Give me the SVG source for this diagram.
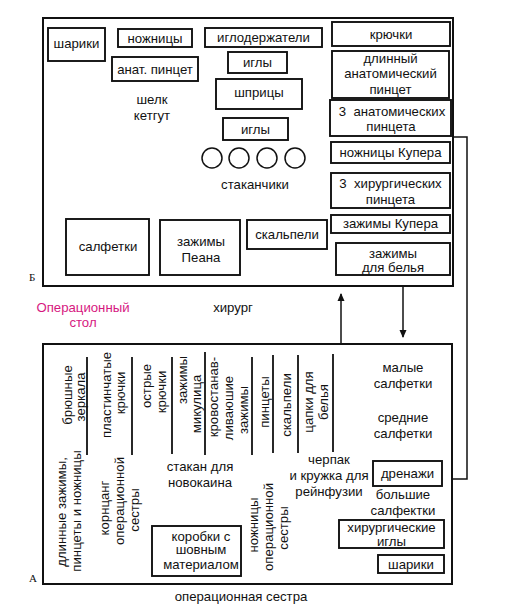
<svg xmlns="http://www.w3.org/2000/svg" width="530" height="614" viewBox="0 0 530 614">
<defs>
<style>
text{font-family:"Liberation Sans",Arial,sans-serif;font-size:13.2px;fill:#111;text-anchor:middle}
.b{fill:#fff;stroke:#111;stroke-width:1.9}
.frame{fill:#fff;stroke:#111;stroke-width:2}
.div{stroke:#111;stroke-width:1.8;fill:none}
.c{fill:#fff;stroke:#111;stroke-width:1.5}
.ser{font-family:"Liberation Serif","Times New Roman",serif;font-size:11px;text-anchor:start}
.mag{fill:#d6177f}
.con{stroke:#111;stroke-width:1.5;fill:none}
.pre{white-space:pre}
</style>
<marker id="ah" markerWidth="8" markerHeight="10" refX="7" refY="4" orient="auto" markerUnits="userSpaceOnUse">
<path d="M0,0.5 L8,4 L0,7.5 Z" fill="#111"/>
</marker>
</defs>
<rect width="530" height="614" fill="#fff"/>

<g id="table-b">
<rect class="frame" x="43" y="18" width="410" height="268"/>
<text class="ser" x="29" y="281">Б</text>
</g>

<g id="sariki-top"><rect class="b" x="48" y="28" width="57" height="33"/><text x="76.5" y="48">шарики</text></g>
<g id="nozhnicy"><rect class="b" x="118" y="29" width="74" height="18"/><text x="155" y="42.5">ножницы</text></g>
<g id="iglodergateli"><rect class="b" x="205" y="28" width="117" height="19"/><text x="263.5" y="42">иглодержатели</text></g>
<g id="anat-pincet"><rect class="b" x="112" y="57" width="86" height="24"/><text x="155" y="73.5">анат. пинцет</text></g>
<g id="igly-1"><rect class="b" x="228" y="52" width="59" height="21"/><text x="257.5" y="67">иглы</text></g>
<g id="shpricy"><rect class="b" x="216" y="79" width="86" height="30"/><text x="259" y="97">шприцы</text></g>
<g id="igly-2"><rect class="b" x="223" y="118" width="65" height="22"/><text x="255.5" y="133.5">иглы</text></g>
<g id="shelk"><text x="152" y="104">шелк</text><text x="152" y="120">кетгут</text></g>
<g id="stakanchiki">
<circle class="c" cx="212" cy="158" r="10"/>
<circle class="c" cx="239" cy="158" r="10"/>
<circle class="c" cx="267" cy="158" r="10"/>
<circle class="c" cx="295" cy="158" r="10"/>
<text x="255" y="189">стаканчики</text>
</g>
<g id="salfetki"><rect class="b" x="66" y="219" width="83" height="56"/><text x="108" y="251">салфетки</text></g>
<g id="zazhimy-peana"><rect class="b" x="160" y="220" width="80" height="55"/><text x="201" y="246">зажимы</text><text x="201" y="262">Пеана</text></g>
<g id="skalpeli"><rect class="b" x="247" y="220" width="80" height="29"/><text x="287" y="238.5">скальпели</text></g>

<g id="kryuchki"><rect class="b" x="332" y="22" width="118" height="24"/><text x="391" y="38.5">крючки</text></g>
<g id="dlinny-pincet"><rect class="b" x="332" y="51" width="117" height="47"/><text x="390.5" y="63">длинный</text><text x="390.5" y="78">анатомический</text><text x="390.5" y="94">пинцет</text></g>
<g id="anat-pinceta-3"><rect class="b" x="330" y="100" width="121" height="36"/><text class="pre" x="392" y="115.5">3  анатомических</text><text x="391" y="130.5">пинцета</text></g>
<g id="nozhnicy-kupera"><rect class="b" x="331" y="142" width="119" height="21"/><text x="390.5" y="157">ножницы Купера</text></g>
<g id="hir-pinceta-3"><rect class="b" x="331" y="173" width="119" height="35"/><text class="pre" x="390.5" y="187.5">3  хирургических</text><text x="390.5" y="203.5">пинцета</text></g>
<g id="zazhimy-kupera"><rect class="b" x="331" y="215" width="119" height="18"/><text x="390.5" y="228">зажимы Купера</text></g>
<g id="zazhimy-belya"><rect class="b" x="336" y="243" width="114" height="32"/><text x="393" y="257.5">зажимы</text><text x="393" y="271.5">для белья</text></g>

<g id="op-stol"><text class="mag" x="83" y="312">Операционный</text><text class="mag" x="83" y="327">стол</text></g>
<g id="hirurg"><text x="233" y="312">хирург</text></g>

<g id="table-a">
<rect class="frame" x="43" y="344" width="409" height="240"/>
<text class="ser" x="29" y="582">А</text>
</g>

<g id="dividers">
<line class="div" x1="87" y1="357" x2="87" y2="455"/>
<line class="div" x1="132" y1="357" x2="132" y2="455"/>
<line class="div" x1="172" y1="357" x2="172" y2="454"/>
<line class="div" x1="205" y1="352" x2="205" y2="455"/>
<line class="div" x1="252" y1="357" x2="252" y2="455"/>
<line class="div" x1="273" y1="355" x2="273" y2="453"/>
<line class="div" x1="298" y1="355" x2="298" y2="453"/>
<line class="div" x1="333" y1="354" x2="333" y2="452"/>
</g>

<g id="bryushnye"><text transform="translate(67,395) rotate(-90)" dy="0.35em">брюшные</text><text transform="translate(80,397) rotate(-90)" dy="0.35em">зеркала</text></g>
<g id="plastinchatye"><text transform="translate(106,395) rotate(-90)" dy="0.35em">пластинчатые</text><text transform="translate(120,393) rotate(-90)" dy="0.35em">крючки</text></g>
<g id="ostrye"><text transform="translate(146,386) rotate(-90)" dy="0.35em">острые</text><text transform="translate(161,392) rotate(-90)" dy="0.35em">крючки</text></g>
<g id="mikulica"><text transform="translate(182,380) rotate(-90)" dy="0.35em">зажимы</text><text transform="translate(196,404) rotate(-90)" dy="0.35em">микулица</text></g>
<g id="krovostanav"><text transform="translate(213,397) rotate(-90)" dy="0.35em">кровостанав-</text><text transform="translate(228,408) rotate(-90)" dy="0.35em">ливаюшие</text><text transform="translate(243,410) rotate(-90)" dy="0.35em">зажимы</text></g>
<g id="pincety"><text transform="translate(264,402) rotate(-90)" dy="0.35em">пинцеты</text></g>
<g id="skalpeli-a"><text transform="translate(286,405) rotate(-90)" dy="0.35em">скальпели</text></g>
<g id="capki"><text transform="translate(308,402) rotate(-90)" dy="0.35em">цапки для</text><text transform="translate(323,402) rotate(-90)" dy="0.35em">белья</text></g>

<g id="malye"><text x="403" y="372">малые</text><text x="403" y="388">салфетки</text></g>
<g id="srednie"><text x="403" y="422">средние</text><text x="403" y="438">салфетки</text></g>
<g id="cherpak"><text x="329" y="464">черпак</text><text x="329" y="480">и кружка для</text><text x="329" y="496">рейнфузии</text></g>
<g id="drenazhi"><rect class="b" x="373" y="461" width="69" height="25"/><text x="407.5" y="478">дренажи</text></g>
<g id="bolshie"><text x="403" y="499">большие</text><text x="403" y="515">салфектки</text></g>
<g id="hir-igly"><rect class="b" x="339" y="520" width="105" height="28"/><text x="391.5" y="532">хирургические</text><text x="391.5" y="546">иглы</text></g>
<g id="shariki-a"><rect class="b" x="378" y="555" width="66" height="18"/><text x="411" y="568.5">шарики</text></g>

<g id="dlinnye"><text transform="translate(61,512) rotate(-90)" dy="0.35em">длинные зажимы,</text><text transform="translate(76,511) rotate(-90)" dy="0.35em">пинцеты и ножницы</text></g>
<g id="korncang"><text transform="translate(104,508) rotate(-90)" dy="0.35em">корнцанг</text><text transform="translate(119,501) rotate(-90)" dy="0.35em">операционной</text><text transform="translate(134,510) rotate(-90)" dy="0.35em">сестры</text></g>
<g id="stakan"><text x="200" y="471">стакан для</text><text x="200" y="487">новокаина</text></g>
<g id="korobki"><rect class="b" x="152" y="526" width="89" height="50"/><text x="201" y="540.5">коробки с</text><text x="201" y="554">шовным</text><text x="201" y="568.5">материалом</text></g>
<g id="nozhnicy-sestry"><text transform="translate(253,525) rotate(-90)" dy="0.35em">ножницы</text><text transform="translate(268,527) rotate(-90)" dy="0.35em">операционной</text><text transform="translate(283,528) rotate(-90)" dy="0.35em">сестры</text></g>
<g id="op-sestra"><text x="241" y="601">операционная сестра</text></g>

<g id="connectors">
<line class="con" x1="341" y1="343" x2="341" y2="294" marker-end="url(#ah)"/>
<line class="con" x1="403" y1="286" x2="403" y2="337" marker-end="url(#ah)"/>
<polyline class="con" points="453,137 467,137 467,479 452,479"/>
</g>
</svg>
